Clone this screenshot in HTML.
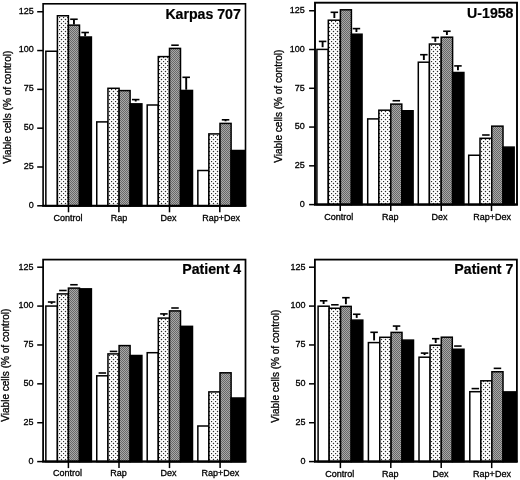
<!DOCTYPE html>
<html><head><meta charset="utf-8"><title>Viable cells</title>
<style>
html,body{margin:0;padding:0;background:#fff;}
body{width:520px;height:480px;overflow:hidden;}
svg{display:block;will-change:transform;filter:grayscale(1);}
text{font-family:"Liberation Sans", sans-serif;fill:#000;}
.tk{font-size:9px;stroke:#000;stroke-width:0.3px;}
.tt{font-size:14.15px;font-weight:bold;stroke:#000;stroke-width:0.2px;}
.yl{font-size:10.05px;stroke:#000;stroke-width:0.3px;}
</style></head><body>
<svg width="520" height="480" viewBox="0 0 520 480">
<defs>
<pattern id="pl" x="59" y="21" width="4" height="4" patternUnits="userSpaceOnUse">
<rect width="4" height="4" fill="#fff"/>
<circle cx="0.5" cy="0.5" r="0.72" fill="#2e2e2e"/>
<circle cx="2.5" cy="2.5" r="0.72" fill="#2e2e2e"/>
</pattern>
<pattern id="pg" width="2" height="2" patternUnits="userSpaceOnUse">
<rect width="2" height="2" fill="#a8a8a8"/>
<rect width="1" height="1" fill="#686868"/>
<rect x="1" y="1" width="1" height="1" fill="#686868"/>
</pattern>
</defs>
<rect width="520" height="480" fill="#fff"/>

<g>
<rect x="45.85" y="51.25" width="11.55" height="154.55" fill="#fff" stroke="#000" stroke-width="1.5"/>
<rect x="57.40" y="15.75" width="11.00" height="190.05" fill="url(#pl)" stroke="#000" stroke-width="1.5"/>
<path d="M70.20 19.25H77.70" stroke="#000" stroke-width="1.6" fill="none"/>
<path d="M73.95 19.25V24.40" stroke="#000" stroke-width="1.9" fill="none"/>
<rect x="68.40" y="25.15" width="11.10" height="180.65" fill="url(#pg)" stroke="#000" stroke-width="1.5"/>
<path d="M81.40 32.50H88.90" stroke="#000" stroke-width="1.6" fill="none"/>
<path d="M85.15 32.50V36.25" stroke="#000" stroke-width="1.9" fill="none"/>
<rect x="79.50" y="37.00" width="11.90" height="168.80" fill="#000" stroke="#000" stroke-width="1.5"/>
<rect x="96.75" y="121.90" width="11.20" height="83.90" fill="#fff" stroke="#000" stroke-width="1.5"/>
<rect x="107.95" y="88.30" width="11.15" height="117.50" fill="url(#pl)" stroke="#000" stroke-width="1.5"/>
<rect x="119.10" y="90.60" width="11.00" height="115.20" fill="url(#pg)" stroke="#000" stroke-width="1.5"/>
<path d="M131.95 99.60H139.45" stroke="#000" stroke-width="1.6" fill="none"/>
<path d="M135.70 99.60V101.50" stroke="#000" stroke-width="1.9" fill="none"/>
<rect x="130.10" y="103.85" width="11.80" height="101.95" fill="#000" stroke="#000" stroke-width="1.5"/>
<rect x="147.20" y="105.00" width="11.10" height="100.80" fill="#fff" stroke="#000" stroke-width="1.5"/>
<rect x="158.30" y="56.60" width="11.20" height="149.20" fill="url(#pl)" stroke="#000" stroke-width="1.5"/>
<path d="M171.25 45.20H178.75" stroke="#000" stroke-width="1.6" fill="none"/>
<rect x="169.50" y="48.40" width="11.00" height="157.40" fill="url(#pg)" stroke="#000" stroke-width="1.5"/>
<path d="M182.45 77.30H189.95" stroke="#000" stroke-width="1.6" fill="none"/>
<path d="M186.20 77.30V89.70" stroke="#000" stroke-width="1.9" fill="none"/>
<rect x="180.50" y="90.45" width="12.00" height="115.35" fill="#000" stroke="#000" stroke-width="1.5"/>
<rect x="197.85" y="170.50" width="11.00" height="35.30" fill="#fff" stroke="#000" stroke-width="1.5"/>
<rect x="208.85" y="133.90" width="11.15" height="71.90" fill="url(#pl)" stroke="#000" stroke-width="1.5"/>
<path d="M221.80 119.80H229.30" stroke="#000" stroke-width="1.6" fill="none"/>
<path d="M225.55 119.80V121.30" stroke="#000" stroke-width="1.9" fill="none"/>
<rect x="220.00" y="123.40" width="11.10" height="82.40" fill="url(#pg)" stroke="#000" stroke-width="1.5"/>
<rect x="231.10" y="150.50" width="13.70" height="55.30" fill="#000" stroke="#000" stroke-width="1.5"/>
<rect x="43.10" y="3.80" width="202.40" height="202.00" fill="none" stroke="#000" stroke-width="1.60"/>
<path d="M42.30 205.80H246.30" stroke="#000" stroke-width="2"/>
<path d="M37.20 205.80H43.10" stroke="#000" stroke-width="1.5"/>
<text class="tk" x="33.70" y="207.70" text-anchor="end">0</text>
<path d="M37.20 166.99H43.10" stroke="#000" stroke-width="1.5"/>
<text class="tk" x="33.70" y="168.89" text-anchor="end">25</text>
<path d="M37.20 128.18H43.10" stroke="#000" stroke-width="1.5"/>
<text class="tk" x="33.70" y="130.08" text-anchor="end">50</text>
<path d="M37.20 89.37H43.10" stroke="#000" stroke-width="1.5"/>
<text class="tk" x="33.70" y="91.27" text-anchor="end">75</text>
<path d="M37.20 50.56H43.10" stroke="#000" stroke-width="1.5"/>
<text class="tk" x="33.70" y="52.46" text-anchor="end">100</text>
<path d="M37.20 11.75H43.10" stroke="#000" stroke-width="1.5"/>
<text class="tk" x="33.70" y="13.65" text-anchor="end">125</text>
<path d="M68.50 205.80V212.30" stroke="#000" stroke-width="1.5"/>
<text class="tk" x="68.00" y="220.60" text-anchor="middle">Control</text>
<path d="M118.90 205.80V212.30" stroke="#000" stroke-width="1.5"/>
<text class="tk" x="119.10" y="220.60" text-anchor="middle">Rap</text>
<path d="M169.50 205.80V212.30" stroke="#000" stroke-width="1.5"/>
<text class="tk" x="168.50" y="220.60" text-anchor="middle">Dex</text>
<path d="M219.80 205.80V212.30" stroke="#000" stroke-width="1.5"/>
<text class="tk" x="221.20" y="220.60" text-anchor="middle">Rap+Dex</text>
<text class="tt" x="240.85" y="18.70" text-anchor="end">Karpas 707</text>
<text class="yl" transform="translate(11.30 107.25) rotate(-90)" text-anchor="middle">Viable cells (% of control)</text>
</g>
<g>
<path d="M318.85 41.40H326.35" stroke="#000" stroke-width="1.6" fill="none"/>
<path d="M322.60 41.40V47.20" stroke="#000" stroke-width="1.9" fill="none"/>
<rect x="316.90" y="49.40" width="11.40" height="155.20" fill="#fff" stroke="#000" stroke-width="1.5"/>
<path d="M330.60 12.30H338.10" stroke="#000" stroke-width="1.6" fill="none"/>
<path d="M334.35 12.30V18.00" stroke="#000" stroke-width="1.9" fill="none"/>
<rect x="328.30" y="20.20" width="12.10" height="184.40" fill="url(#pl)" stroke="#000" stroke-width="1.5"/>
<rect x="340.40" y="9.80" width="11.00" height="194.80" fill="url(#pg)" stroke="#000" stroke-width="1.5"/>
<path d="M352.68 28.60H360.18" stroke="#000" stroke-width="1.6" fill="none"/>
<path d="M356.43 28.60V32.00" stroke="#000" stroke-width="1.9" fill="none"/>
<rect x="351.40" y="34.20" width="10.65" height="170.40" fill="#000" stroke="#000" stroke-width="1.5"/>
<rect x="367.70" y="118.90" width="11.15" height="85.70" fill="#fff" stroke="#000" stroke-width="1.5"/>
<rect x="378.85" y="110.20" width="11.95" height="94.40" fill="url(#pl)" stroke="#000" stroke-width="1.5"/>
<path d="M392.55 100.75H400.05" stroke="#000" stroke-width="1.6" fill="none"/>
<rect x="390.80" y="104.10" width="11.00" height="100.50" fill="url(#pg)" stroke="#000" stroke-width="1.5"/>
<rect x="401.80" y="110.75" width="11.30" height="93.85" fill="#000" stroke="#000" stroke-width="1.5"/>
<path d="M420.10 54.70H427.60" stroke="#000" stroke-width="1.6" fill="none"/>
<path d="M423.85 54.70V60.00" stroke="#000" stroke-width="1.9" fill="none"/>
<rect x="418.30" y="62.20" width="11.10" height="142.40" fill="#fff" stroke="#000" stroke-width="1.5"/>
<path d="M431.55 37.50H439.05" stroke="#000" stroke-width="1.6" fill="none"/>
<path d="M435.30 37.50V41.86" stroke="#000" stroke-width="1.9" fill="none"/>
<rect x="429.40" y="44.06" width="11.80" height="160.54" fill="url(#pl)" stroke="#000" stroke-width="1.5"/>
<path d="M443.15 31.25H450.65" stroke="#000" stroke-width="1.6" fill="none"/>
<path d="M446.90 31.25V35.00" stroke="#000" stroke-width="1.9" fill="none"/>
<rect x="441.20" y="37.20" width="11.40" height="167.40" fill="url(#pg)" stroke="#000" stroke-width="1.5"/>
<path d="M454.20 65.90H461.70" stroke="#000" stroke-width="1.6" fill="none"/>
<path d="M457.95 65.90V70.30" stroke="#000" stroke-width="1.9" fill="none"/>
<rect x="452.60" y="72.50" width="11.30" height="132.10" fill="#000" stroke="#000" stroke-width="1.5"/>
<rect x="468.70" y="155.25" width="11.30" height="49.35" fill="#fff" stroke="#000" stroke-width="1.5"/>
<path d="M482.12 135.00H489.62" stroke="#000" stroke-width="1.6" fill="none"/>
<rect x="480.00" y="138.30" width="11.75" height="66.30" fill="url(#pl)" stroke="#000" stroke-width="1.5"/>
<rect x="491.75" y="126.16" width="11.25" height="78.44" fill="url(#pg)" stroke="#000" stroke-width="1.5"/>
<rect x="503.00" y="147.10" width="11.15" height="57.50" fill="#000" stroke="#000" stroke-width="1.5"/>
<rect x="315.00" y="2.70" width="202.00" height="201.90" fill="none" stroke="#000" stroke-width="1.90"/>
<path d="M314.20 204.60H517.80" stroke="#000" stroke-width="2"/>
<path d="M309.10 204.60H315.00" stroke="#000" stroke-width="1.5"/>
<text class="tk" x="304.70" y="207.00" text-anchor="end">0</text>
<path d="M309.10 165.83H315.00" stroke="#000" stroke-width="1.5"/>
<text class="tk" x="304.70" y="168.23" text-anchor="end">25</text>
<path d="M309.10 127.06H315.00" stroke="#000" stroke-width="1.5"/>
<text class="tk" x="304.70" y="129.46" text-anchor="end">50</text>
<path d="M309.10 88.29H315.00" stroke="#000" stroke-width="1.5"/>
<text class="tk" x="304.70" y="90.69" text-anchor="end">75</text>
<path d="M309.10 49.52H315.00" stroke="#000" stroke-width="1.5"/>
<text class="tk" x="304.70" y="51.92" text-anchor="end">100</text>
<path d="M309.10 10.75H315.00" stroke="#000" stroke-width="1.5"/>
<text class="tk" x="304.70" y="13.15" text-anchor="end">125</text>
<path d="M340.25 204.60V211.10" stroke="#000" stroke-width="1.5"/>
<text class="tk" x="338.70" y="220.00" text-anchor="middle">Control</text>
<path d="M390.75 204.60V211.10" stroke="#000" stroke-width="1.5"/>
<text class="tk" x="390.20" y="220.00" text-anchor="middle">Rap</text>
<path d="M441.25 204.60V211.10" stroke="#000" stroke-width="1.5"/>
<text class="tk" x="439.50" y="220.00" text-anchor="middle">Dex</text>
<path d="M491.50 204.60V211.10" stroke="#000" stroke-width="1.5"/>
<text class="tk" x="492.20" y="220.00" text-anchor="middle">Rap+Dex</text>
<text class="tt" x="513.50" y="17.60" text-anchor="end">U-1958</text>
<text class="yl" transform="translate(282.20 106.15) rotate(-90)" text-anchor="middle">Viable cells (% of control)</text>
</g>
<g>
<path d="M47.88 302.00H55.38" stroke="#000" stroke-width="1.6" fill="none"/>
<path d="M51.62 302.00V303.86" stroke="#000" stroke-width="1.9" fill="none"/>
<rect x="45.85" y="306.06" width="11.55" height="155.54" fill="#fff" stroke="#000" stroke-width="1.5"/>
<path d="M59.15 290.50H66.65" stroke="#000" stroke-width="1.6" fill="none"/>
<rect x="57.40" y="293.90" width="11.00" height="167.70" fill="url(#pl)" stroke="#000" stroke-width="1.5"/>
<path d="M70.20 284.75H77.70" stroke="#000" stroke-width="1.6" fill="none"/>
<rect x="68.40" y="288.10" width="11.10" height="173.50" fill="url(#pg)" stroke="#000" stroke-width="1.5"/>
<rect x="79.50" y="288.85" width="11.90" height="172.75" fill="#000" stroke="#000" stroke-width="1.5"/>
<path d="M98.60 373.00H106.10" stroke="#000" stroke-width="1.6" fill="none"/>
<rect x="96.75" y="375.80" width="11.20" height="85.80" fill="#fff" stroke="#000" stroke-width="1.5"/>
<path d="M109.78 351.40H117.28" stroke="#000" stroke-width="1.6" fill="none"/>
<rect x="107.95" y="353.90" width="11.15" height="107.70" fill="url(#pl)" stroke="#000" stroke-width="1.5"/>
<rect x="119.10" y="345.60" width="11.00" height="116.00" fill="url(#pg)" stroke="#000" stroke-width="1.5"/>
<rect x="130.10" y="355.50" width="11.80" height="106.10" fill="#000" stroke="#000" stroke-width="1.5"/>
<rect x="147.20" y="352.70" width="11.10" height="108.90" fill="#fff" stroke="#000" stroke-width="1.5"/>
<path d="M160.15 313.90H167.65" stroke="#000" stroke-width="1.6" fill="none"/>
<path d="M163.90 313.90V315.90" stroke="#000" stroke-width="1.9" fill="none"/>
<rect x="158.30" y="318.10" width="11.20" height="143.50" fill="url(#pl)" stroke="#000" stroke-width="1.5"/>
<path d="M171.25 308.00H178.75" stroke="#000" stroke-width="1.6" fill="none"/>
<rect x="169.50" y="310.90" width="11.00" height="150.70" fill="url(#pg)" stroke="#000" stroke-width="1.5"/>
<rect x="180.50" y="326.35" width="12.00" height="135.25" fill="#000" stroke="#000" stroke-width="1.5"/>
<rect x="197.85" y="426.00" width="11.00" height="35.60" fill="#fff" stroke="#000" stroke-width="1.5"/>
<rect x="208.85" y="391.90" width="11.15" height="69.70" fill="url(#pl)" stroke="#000" stroke-width="1.5"/>
<rect x="220.00" y="372.80" width="11.10" height="88.80" fill="url(#pg)" stroke="#000" stroke-width="1.5"/>
<rect x="231.10" y="398.00" width="13.70" height="63.60" fill="#000" stroke="#000" stroke-width="1.5"/>
<rect x="43.10" y="259.60" width="202.40" height="202.00" fill="none" stroke="#000" stroke-width="1.75"/>
<path d="M42.30 461.60H246.30" stroke="#000" stroke-width="2"/>
<path d="M37.20 461.60H43.10" stroke="#000" stroke-width="1.5"/>
<text class="tk" x="33.50" y="464.00" text-anchor="end">0</text>
<path d="M37.20 422.72H43.10" stroke="#000" stroke-width="1.5"/>
<text class="tk" x="33.50" y="425.12" text-anchor="end">25</text>
<path d="M37.20 383.84H43.10" stroke="#000" stroke-width="1.5"/>
<text class="tk" x="33.50" y="386.24" text-anchor="end">50</text>
<path d="M37.20 344.96H43.10" stroke="#000" stroke-width="1.5"/>
<text class="tk" x="33.50" y="347.36" text-anchor="end">75</text>
<path d="M37.20 306.08H43.10" stroke="#000" stroke-width="1.5"/>
<text class="tk" x="33.50" y="308.48" text-anchor="end">100</text>
<path d="M37.20 267.20H43.10" stroke="#000" stroke-width="1.5"/>
<text class="tk" x="33.50" y="269.60" text-anchor="end">125</text>
<path d="M68.40 461.60V468.10" stroke="#000" stroke-width="1.5"/>
<text class="tk" x="67.50" y="476.40" text-anchor="middle">Control</text>
<path d="M119.00 461.60V468.10" stroke="#000" stroke-width="1.5"/>
<text class="tk" x="118.40" y="476.40" text-anchor="middle">Rap</text>
<path d="M169.50 461.60V468.10" stroke="#000" stroke-width="1.5"/>
<text class="tk" x="168.50" y="476.40" text-anchor="middle">Dex</text>
<path d="M220.10 461.60V468.10" stroke="#000" stroke-width="1.5"/>
<text class="tk" x="220.30" y="476.40" text-anchor="middle">Rap+Dex</text>
<text class="tt" x="241.20" y="273.85" text-anchor="end">Patient 4</text>
<text class="yl" transform="translate(9.20 365.20) rotate(-90)" text-anchor="middle">Viable cells (% of control)</text>
</g>
<g>
<path d="M319.88 300.80H327.38" stroke="#000" stroke-width="1.6" fill="none"/>
<path d="M323.62 300.80V304.00" stroke="#000" stroke-width="1.9" fill="none"/>
<rect x="318.10" y="306.20" width="11.05" height="155.40" fill="#fff" stroke="#000" stroke-width="1.5"/>
<path d="M331.12 304.80H338.62" stroke="#000" stroke-width="1.6" fill="none"/>
<rect x="329.15" y="308.25" width="11.45" height="153.35" fill="url(#pl)" stroke="#000" stroke-width="1.5"/>
<path d="M342.15 297.70H349.65" stroke="#000" stroke-width="1.6" fill="none"/>
<path d="M345.90 297.70V304.20" stroke="#000" stroke-width="1.9" fill="none"/>
<rect x="340.60" y="306.40" width="10.60" height="155.20" fill="url(#pg)" stroke="#000" stroke-width="1.5"/>
<path d="M352.95 314.25H360.45" stroke="#000" stroke-width="1.6" fill="none"/>
<path d="M356.70 314.25V317.90" stroke="#000" stroke-width="1.9" fill="none"/>
<rect x="351.20" y="320.10" width="11.60" height="141.50" fill="#000" stroke="#000" stroke-width="1.5"/>
<path d="M370.35 332.30H377.85" stroke="#000" stroke-width="1.6" fill="none"/>
<path d="M374.10 332.30V340.40" stroke="#000" stroke-width="1.9" fill="none"/>
<rect x="368.40" y="342.60" width="11.40" height="119.00" fill="#fff" stroke="#000" stroke-width="1.5"/>
<rect x="379.80" y="337.30" width="11.30" height="124.30" fill="url(#pl)" stroke="#000" stroke-width="1.5"/>
<path d="M392.80 326.06H400.30" stroke="#000" stroke-width="1.6" fill="none"/>
<path d="M396.55 326.06V330.20" stroke="#000" stroke-width="1.9" fill="none"/>
<rect x="391.10" y="332.40" width="10.90" height="129.20" fill="url(#pg)" stroke="#000" stroke-width="1.5"/>
<rect x="402.00" y="340.10" width="11.50" height="121.50" fill="#000" stroke="#000" stroke-width="1.5"/>
<path d="M420.80 353.10H428.30" stroke="#000" stroke-width="1.6" fill="none"/>
<path d="M424.55 353.10V355.00" stroke="#000" stroke-width="1.9" fill="none"/>
<rect x="419.00" y="357.20" width="11.10" height="104.40" fill="#fff" stroke="#000" stroke-width="1.5"/>
<path d="M431.95 338.70H439.45" stroke="#000" stroke-width="1.6" fill="none"/>
<path d="M435.70 338.70V343.00" stroke="#000" stroke-width="1.9" fill="none"/>
<rect x="430.10" y="345.20" width="11.20" height="116.40" fill="url(#pl)" stroke="#000" stroke-width="1.5"/>
<rect x="441.30" y="337.20" width="11.00" height="124.40" fill="url(#pg)" stroke="#000" stroke-width="1.5"/>
<path d="M454.10 346.06H461.60" stroke="#000" stroke-width="1.6" fill="none"/>
<rect x="452.30" y="349.25" width="11.70" height="112.35" fill="#000" stroke="#000" stroke-width="1.5"/>
<path d="M471.58 388.60H479.08" stroke="#000" stroke-width="1.6" fill="none"/>
<rect x="469.80" y="391.70" width="11.05" height="69.90" fill="#fff" stroke="#000" stroke-width="1.5"/>
<rect x="480.85" y="380.80" width="11.05" height="80.80" fill="url(#pl)" stroke="#000" stroke-width="1.5"/>
<path d="M493.70 368.36H501.20" stroke="#000" stroke-width="1.6" fill="none"/>
<rect x="491.90" y="371.76" width="11.10" height="89.84" fill="url(#pg)" stroke="#000" stroke-width="1.5"/>
<rect x="503.00" y="391.90" width="13.20" height="69.70" fill="#000" stroke="#000" stroke-width="1.5"/>
<rect x="314.90" y="259.60" width="202.00" height="202.00" fill="none" stroke="#000" stroke-width="1.80"/>
<path d="M314.10 461.60H517.70" stroke="#000" stroke-width="2"/>
<path d="M309.00 461.60H314.90" stroke="#000" stroke-width="1.5"/>
<text class="tk" x="305.60" y="464.00" text-anchor="end">0</text>
<path d="M309.00 422.72H314.90" stroke="#000" stroke-width="1.5"/>
<text class="tk" x="305.60" y="425.12" text-anchor="end">25</text>
<path d="M309.00 383.84H314.90" stroke="#000" stroke-width="1.5"/>
<text class="tk" x="305.60" y="386.24" text-anchor="end">50</text>
<path d="M309.00 344.96H314.90" stroke="#000" stroke-width="1.5"/>
<text class="tk" x="305.60" y="347.36" text-anchor="end">75</text>
<path d="M309.00 306.08H314.90" stroke="#000" stroke-width="1.5"/>
<text class="tk" x="305.60" y="308.48" text-anchor="end">100</text>
<path d="M309.00 267.20H314.90" stroke="#000" stroke-width="1.5"/>
<text class="tk" x="305.60" y="269.60" text-anchor="end">125</text>
<path d="M340.40 461.60V468.10" stroke="#000" stroke-width="1.5"/>
<text class="tk" x="339.70" y="476.50" text-anchor="middle">Control</text>
<path d="M390.80 461.60V468.10" stroke="#000" stroke-width="1.5"/>
<text class="tk" x="390.20" y="476.50" text-anchor="middle">Rap</text>
<path d="M441.20 461.60V468.10" stroke="#000" stroke-width="1.5"/>
<text class="tk" x="440.50" y="476.50" text-anchor="middle">Dex</text>
<path d="M491.70 461.60V468.10" stroke="#000" stroke-width="1.5"/>
<text class="tk" x="492.00" y="476.50" text-anchor="middle">Rap+Dex</text>
<text class="tt" x="513.30" y="274.45" text-anchor="end">Patient 7</text>
<text class="yl" transform="translate(279.20 366.15) rotate(-90)" text-anchor="middle">Viable cells (% of control)</text>
</g>
</svg></body></html>
